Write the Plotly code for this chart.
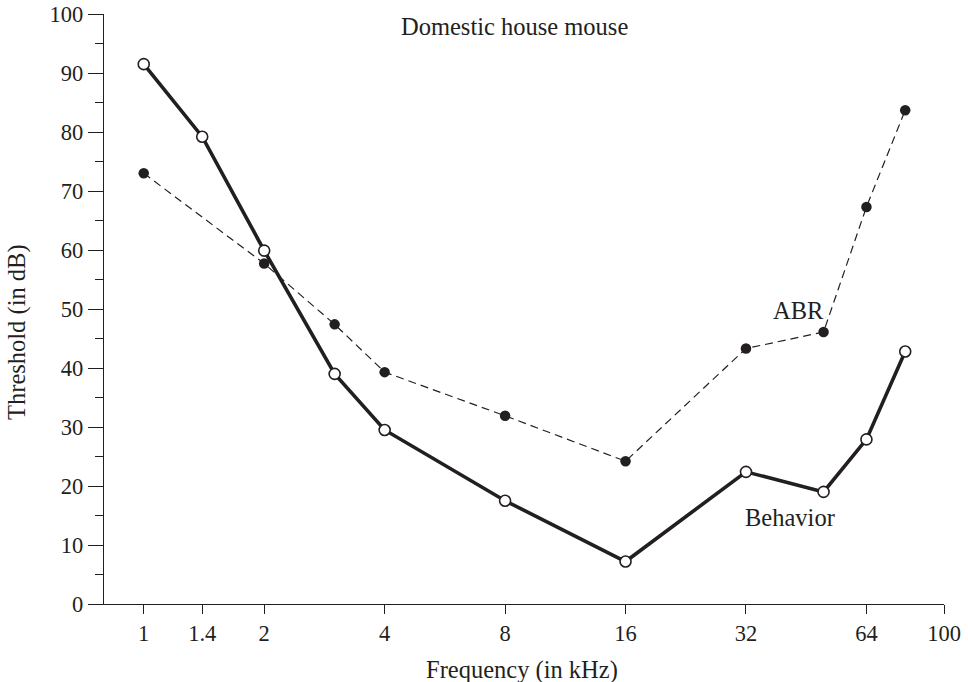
import math
import plotly.graph_objects as go

# Hearing thresholds of the domestic house mouse
behavior_freq = [1, 1.4, 2, 3, 4, 8, 16, 32, 50, 64, 80]
behavior_db = [91.5, 79.2, 59.9, 39.0, 29.5, 17.5, 7.2, 22.4, 19.0, 27.9, 42.8]

abr_freq = [1, 2, 3, 4, 8, 16, 32, 50, 64, 80]
abr_db = [73.0, 57.7, 47.4, 39.3, 31.9, 24.2, 43.3, 46.1, 67.3, 83.7]

x_tick_vals = [1, 1.4, 2, 4, 8, 16, 32, 64, 100]
x_tick_text = ["1", "1.4", "2", "4", "8", "16", "32", "64", "100"]
y_tick_vals = [0, 10, 20, 30, 40, 50, 60, 70, 80, 90, 100]

INK = "#231f20"
FONT = "Liberation Serif"
TEXT_SIZE = 24.5
TICK_SIZE = 22.5

fig = go.Figure()

fig.add_trace(go.Scatter(
    x=behavior_freq, y=behavior_db, mode="lines+markers", name="Behavior",
    line=dict(color=INK, width=3.6),
    marker=dict(symbol="circle", size=11, color="white",
                line=dict(color=INK, width=1.6)),
))

fig.add_trace(go.Scatter(
    x=abr_freq, y=abr_db, mode="lines+markers", name="ABR",
    line=dict(color=INK, width=1.2, dash="8px,5px"),
    marker=dict(symbol="circle", size=10.5, color=INK,
                line=dict(color=INK, width=0)),
))


def text_font():
    return dict(family=FONT, size=TEXT_SIZE, color=INK)


fig.add_annotation(x=math.log10(8.43), y=97.8, text="Domestic house mouse",
                   showarrow=False, font=text_font(), xanchor="center", yanchor="middle")
fig.add_annotation(x=math.log10(43.4), y=49.8, text="ABR",
                   showarrow=False, font=text_font(), xanchor="center", yanchor="middle")
fig.add_annotation(x=math.log10(41.3), y=14.7, text="Behavior",
                   showarrow=False, font=text_font(), xanchor="center", yanchor="middle")

# axis titles
fig.add_annotation(xref="paper", yref="paper", x=0.498, y=-0.1119,
                   text="Frequency (in kHz)", showarrow=False, font=text_font(),
                   xanchor="center", yanchor="middle")
fig.add_annotation(xref="paper", yref="paper", x=-0.1036, y=0.461,
                   text="Threshold (in dB)", showarrow=False, font=text_font(),
                   textangle=-90, xanchor="center", yanchor="middle")

fig.update_xaxes(
    type="log", range=[-0.0993, 2.0], automargin=False,
    tickvals=x_tick_vals, ticktext=x_tick_text,
    ticks="outside", ticklen=9, tickwidth=1.3, tickcolor=INK,
    showline=True, linecolor=INK, linewidth=1.4, mirror=False,
    showgrid=False, zeroline=False,
    tickfont=dict(family=FONT, size=TICK_SIZE, color=INK),
)
fig.update_yaxes(
    range=[0, 100], tickvals=y_tick_vals, automargin=False,
    ticks="outside", ticklen=15, tickwidth=1.3, tickcolor=INK,
    minor=dict(dtick=5, ticks="outside", ticklen=8, tickwidth=1.3, tickcolor=INK, showgrid=False),
    showline=True, linecolor=INK, linewidth=1.4, mirror=False,
    showgrid=False, zeroline=False,
    tickfont=dict(family=FONT, size=TICK_SIZE, color=INK),
)

fig.update_layout(
    width=968, height=682,
    margin=dict(l=104, r=24, t=14, b=78, autoexpand=False),
    paper_bgcolor="white", plot_bgcolor="white",
    showlegend=False,
)

fig.write_html("out.html")
